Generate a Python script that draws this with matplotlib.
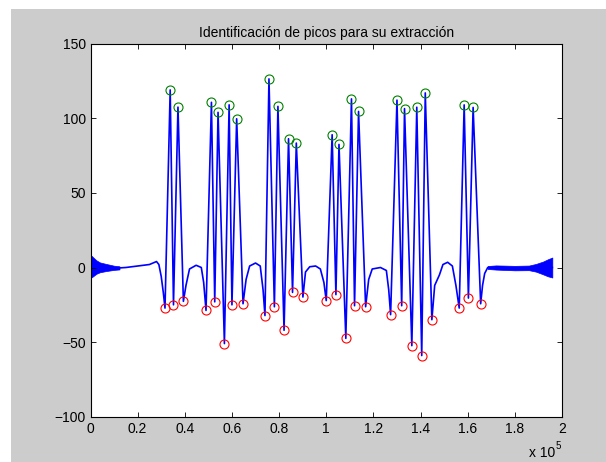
import numpy as np
import matplotlib
matplotlib.use("Agg")
import matplotlib.pyplot as plt
from matplotlib.patches import Rectangle
from matplotlib.ticker import FuncFormatter, MultipleLocator

plt.rcParams['font.family'] = ['Liberation Sans', 'DejaVu Sans']
plt.rcParams['font.size'] = 10

# signal outline (sample index, amplitude)
sig_x = [0, 5000, 10000, 15000, 20000, 25000, 28000, 29000, 30000, 30900,
         31600, 33800, 35200, 37100, 39400, 40500, 42000, 44800, 47000, 48000,
         49000, 51300, 52700, 54100, 56800, 58800, 60000, 62000, 64700, 66000,
         67500, 70000, 72000, 73200, 74000, 75700, 78000, 79500, 82100, 84000,
         85700, 87300, 90100, 91200, 93000, 95500, 97500, 99000, 100000, 102500,
         104100, 105400, 108300, 110700, 112000, 113700, 116700, 118000, 119500, 123000,
         125500, 126500, 127300, 130000, 132000, 133200, 136300, 138400, 140500, 142000,
         144800, 146000, 148000, 149500, 151500, 153500, 155000, 156400, 158500, 160300,
         162300, 165500, 166300, 167200, 168500, 175000, 180000, 187000, 195900]
sig_y = [0.7, 0.0, -0.5, 0.0, 1.0, 2.0, 4.0, 2.0, -6, -17,
         -27.2, 119, -25, 107.5, -22.7, -12, -1, 1.5, 0, -10,
         -28.8, 110.7, -23, 104, -51, 109, -25, 99.7, -24.3, -8,
         1, 3, 1, -15, -32.2, 126.4, -26.3, 108, -42.1, 86.3,
         -16.7, 83.4, -19.8, -3, 0.5, 1, -1, -10, -22.2, 89,
         -18.2, 82.5, -47.5, 113, -25.6, 104.6, -26.3, -8, -1, 0,
         -2, -15, -31.6, 112.2, -25.6, 106.5, -52.4, 107.4, -59, 117,
         -35, -12, -5, 2, 3.5, 1, -12, -27.2, 109, -20.5,
         107.3, -24.3, -12, -4, 0, 0, -0.5, -0.3, 0]

# noisy stretches at both ends (sample index, lower, upper)
band1_x = [0, 1000, 2500, 4000, 6600, 10000, 12300]
band1_lo = [-7.1, -6.0, -4.2, -3.2, -2.4, -1.6, -1.3]
band1_hi = [8.5, 7.0, 4.8, 3.4, 2.4, 1.2, 0.8]
band2_x = [168500, 172000, 180000, 186000, 189000, 192000, 194000, 195900]
band2_lo = [-1.0, -1.4, -1.9, -1.8, -2.8, -4.6, -5.9, -6.7]
band2_hi = [1.0, 1.4, 1.1, 1.3, 2.4, 4.0, 5.5, 6.7]

# detected peaks / valleys
peak_x = [33800, 37100, 51300, 54100, 58800, 62000, 75700, 79500, 84000, 87300,
          102500, 105400, 110700, 113700, 130000, 133200, 138400, 142000, 158500, 162300]
peak_y = [119, 107.5, 110.7, 104, 109, 99.7, 126.4, 108, 86.3, 83.4,
          89, 82.5, 113, 104.6, 112.2, 106.5, 107.4, 117, 109, 107.3]
valley_x = [31600, 35200, 39400, 49000, 52700, 56800, 60000, 64700, 74000, 78000,
            82100, 85700, 90100, 100000, 104100, 108300, 112000, 116700, 127300, 132000,
            136300, 140500, 144800, 156400, 160300, 165500]
valley_y = [-27.2, -25, -22.7, -28.8, -23, -51, -25, -24.3, -32.2, -26.3,
            -42.1, -16.7, -19.8, -22.2, -18.2, -47.5, -25.6, -26.3, -31.6, -25.6,
            -52.4, -59, -35, -27.2, -20.5, -24.3]

fig = plt.figure(figsize=(6.06, 4.62), dpi=100, facecolor='white')
fig.patches.append(Rectangle((11 / 606, 0), 1, 1 - 9 / 462, transform=fig.transFigure,
                             facecolor='#cccccc', edgecolor='none', zorder=-10))
ax = fig.add_axes([90.5 / 606, 1 - 416.7 / 462, (562 - 90.5) / 606, (416.7 - 43.7) / 462])
ax.set_facecolor('white')

ax.fill_between(band1_x, band1_lo, band1_hi, color='#0000ff', lw=0.5)
ax.fill_between(band2_x, band2_lo, band2_hi, color='#0000ff', lw=0.5)
ax.plot(sig_x, sig_y, color='#0000ff', lw=1.2)
ax.plot(peak_x, peak_y, 'o', mfc='none', mec='#008000', ms=6.5, mew=0.8)
ax.plot(valley_x, valley_y, 'o', mfc='none', mec='#ff0000', ms=6.5, mew=0.8)

ax.set_xlim(0, 200000)
ax.set_ylim(-100, 150)
ax.xaxis.set_major_locator(MultipleLocator(20000))
ax.yaxis.set_major_locator(MultipleLocator(50))
ax.xaxis.set_major_formatter(FuncFormatter(lambda v, p: '%g' % (v / 1e5)))
ax.tick_params(direction='in', top=True, right=True, length=3.8, width=0.6,
               labelsize=10, colors='black')
ax.tick_params(axis='x', pad=4)
ax.tick_params(axis='y', pad=3.5)
for s in ax.spines.values():
    s.set_linewidth(0.8)
    s.set_color('black')

ax.set_title('Identificación de picos para su extracción', fontsize=10, pad=5)
fig.text(529 / 606, 1 - 460 / 462, 'x 10', fontsize=10, ha='left', va='bottom')
fig.text(556 / 606, 1 - 451 / 462, '5', fontsize=7, ha='left', va='bottom')

fig.savefig('out.png', dpi=100, facecolor=fig.get_facecolor())
